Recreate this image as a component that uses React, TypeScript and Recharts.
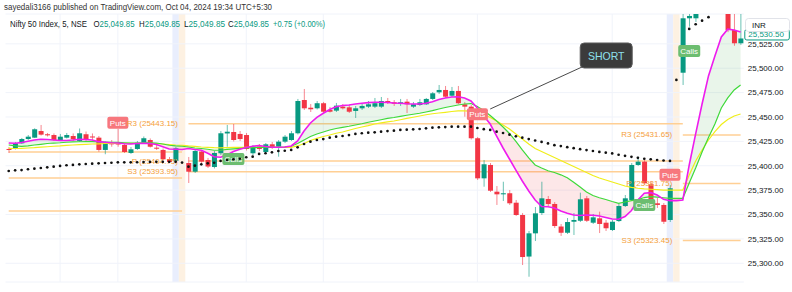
import React from 'react';
import {
  ComposedChart, Bar, Line, Area, XAxis, YAxis, CartesianGrid, ReferenceArea, ReferenceLine,
} from 'recharts';

const FONT = "'Liberation Sans', Arial, sans-serif";
const UP = '#089981';
const DOWN = '#f23645';

// [open, high, low, close]
const DAY1_OHLC = [
  [25417.2, 25419.2, 25413.1, 25416.2], [25417.9, 25424.4, 25416.7, 25423.0], [25423.0, 25428.5, 25422.3, 25427.4],
  [25427.4, 25431.5, 25426.4, 25429.8], [25428.8, 25438.4, 25428.5, 25437.4], [25435.6, 25441.8, 25431.0, 25431.9],
  [25432.3, 25433.6, 25430.0, 25431.2], [25431.5, 25433.1, 25425.4, 25426.4], [25426.4, 25432.6, 25425.4, 25429.8],
  [25428.8, 25433.6, 25428.0, 25431.5], [25430.5, 25433.1, 25425.4, 25427.1], [25425.4, 25438.2, 25424.4, 25433.3],
  [25432.3, 25435.1, 25425.4, 25427.4], [25430.0, 25433.1, 25426.4, 25429.5], [25428.8, 25430.5, 25414.4, 25416.2],
  [25416.2, 25424.9, 25411.8, 25423.6], [25423.0, 25426.4, 25419.5, 25422.0], [25423.0, 25437.7, 25419.5, 25421.8],
  [25421.3, 25423.3, 25413.1, 25414.1], [25413.1, 25419.2, 25412.1, 25416.9], [25417.2, 25425.4, 25416.2, 25423.6],
  [25423.6, 25430.0, 25422.8, 25428.2], [25426.4, 25428.0, 25418.7, 25419.5], [25418.5, 25421.3, 25416.2, 25417.5],
  [25416.2, 25417.7, 25405.9, 25406.6], [25406.9, 25409.0, 25402.8, 25403.9], [25404.9, 25419.2, 25403.9, 25417.9],
];
const DAY2_OHLC = [
  [25402.8, 25409.0, 25382.3, 25393.9], [25393.9, 25416.2, 25392.6, 25415.1], [25414.6, 25416.2, 25402.8, 25404.2],
  [25405.9, 25408.0, 25397.7, 25399.2], [25398.7, 25415.1, 25397.2, 25413.1], [25412.8, 25435.6, 25411.0, 25433.3],
  [25433.1, 25441.8, 25419.5, 25434.9], [25434.6, 25442.8, 25424.9, 25426.4], [25432.6, 25435.6, 25425.4, 25427.4],
  [25431.5, 25433.6, 25415.6, 25417.2], [25412.8, 25421.3, 25411.0, 25419.5], [25419.8, 25422.3, 25415.1, 25417.2],
  [25414.1, 25423.3, 25413.1, 25422.0], [25422.0, 25424.4, 25417.2, 25418.5], [25419.5, 25426.4, 25409.3, 25424.7],
  [25424.7, 25431.5, 25423.3, 25429.8], [25426.4, 25435.6, 25425.4, 25433.3], [25433.3, 25468.5, 25432.1, 25466.4],
  [25467.4, 25478.7, 25457.2, 25458.9], [25459.5, 25463.3, 25455.1, 25457.9], [25458.9, 25466.4, 25457.7, 25464.1],
  [25464.1, 25465.4, 25454.1, 25455.4], [25457.2, 25460.3, 25454.6, 25455.4], [25456.5, 25464.4, 25455.1, 25461.6],
  [25460.6, 25463.3, 25457.7, 25458.9], [25459.9, 25462.3, 25454.1, 25455.4], [25456.2, 25461.3, 25449.0, 25458.9],
  [25458.9, 25463.3, 25457.2, 25461.3], [25460.6, 25466.4, 25459.2, 25463.0], [25460.6, 25469.5, 25459.2, 25464.1],
  [25460.6, 25470.5, 25459.2, 25466.4], [25466.4, 25469.5, 25463.3, 25465.1], [25465.1, 25467.4, 25461.3, 25463.6],
  [25463.3, 25468.5, 25461.3, 25465.1], [25465.7, 25468.5, 25454.1, 25463.0], [25460.6, 25465.4, 25459.2, 25463.0],
  [25462.3, 25468.5, 25461.3, 25465.1], [25463.0, 25469.5, 25462.3, 25468.5], [25468.5, 25475.6, 25467.4, 25474.3],
  [25475.3, 25482.8, 25473.6, 25477.7], [25477.7, 25481.8, 25469.5, 25470.8], [25471.8, 25480.8, 25470.5, 25476.7],
  [25476.7, 25481.8, 25463.3, 25464.1], [25463.0, 25465.4, 25450.3, 25460.6], [25460.6, 25462.3, 25426.9, 25428.2],
  [25428.2, 25429.5, 25385.4, 25387.1], [25387.1, 25405.9, 25378.5, 25401.5], [25400.8, 25402.8, 25373.1, 25374.4],
  [25373.4, 25379.2, 25359.8, 25370.7], [25370.7, 25383.6, 25363.9, 25371.8], [25371.8, 25375.1, 25359.8, 25361.5],
  [25362.1, 25364.9, 25348.5, 25349.5], [25349.5, 25351.5, 25298.2, 25306.4], [25306.9, 25333.1, 25286.2, 25330.7],
  [25330.7, 25357.7, 25322.8, 25351.2], [25351.5, 25383.6, 25349.5, 25366.6], [25365.9, 25369.0, 25358.7, 25360.8],
  [25360.8, 25362.8, 25336.2, 25338.2], [25337.7, 25340.3, 25328.0, 25331.3], [25331.3, 25346.4, 25330.0, 25342.3],
  [25342.6, 25351.5, 25329.0, 25344.4], [25343.6, 25372.4, 25342.3, 25365.6], [25366.6, 25369.0, 25342.3, 25343.6],
  [25341.6, 25350.5, 25340.3, 25347.1], [25346.1, 25352.9, 25331.0, 25340.3], [25341.6, 25344.4, 25333.1, 25335.9],
  [25334.1, 25344.4, 25333.1, 25342.6], [25343.3, 25360.8, 25342.3, 25358.7], [25358.7, 25370.0, 25357.7, 25366.6],
  [25364.9, 25402.8, 25363.9, 25400.8], [25400.8, 25409.3, 25399.8, 25404.2], [25404.2, 25408.0, 25380.3, 25382.0],
  [25381.0, 25384.4, 25361.8, 25363.1], [25361.5, 25366.9, 25356.7, 25359.8], [25359.8, 25361.8, 25340.3, 25342.6],
  [25344.4, 25380.3, 25342.3, 25376.9],
];
const DAY3_OHLC = [
  [25495.4, 25557.7, 25482.8, 25551.2], [25551.2, 25559.7, 25542.6, 25553.6], [25551.2, 25561.8, 25547.4, 25556.7],
  [25557.0, 25575.0, 25556.0, 25566.0], [25566.0, 25585.0, 25562.0, 25580.0], [25580.0, 25598.0, 25575.0, 25592.0],
  [25590.0, 25597.0, 25565.0, 25570.0], [25570.0, 25574.0, 25537.0, 25539.2], [25539.2, 25556.5, 25523.0, 25525.6],
  [25525.6, 25560.0, 25524.0, 25530.5],
];
const OHLC = [...DAY1_OHLC, null, ...DAY2_OHLC, null, ...DAY3_OHLC];

const EMA_FAST = [
  25423.3, 25423.0, 25423.9, 25425.1, 25426.4, 25427.1, 25426.9, 25426.4, 25425.9, 25425.9,
  25426.4, 25427.1, 25426.9, 25426.4, 25424.7, 25424.1, 25423.6, 25423.3, 25422.6, 25422.3,
  25422.8, 25423.0, 25422.8, 25421.8, 25419.5, 25417.2, 25416.9, 25416.7,
  25417.7, 25416.7, 25415.9, 25412.8, 25409.3, 25408.7, 25411.0, 25414.6, 25416.9, 25418.7,
  25420.0, 25420.8, 25419.8, 25418.9, 25418.9, 25419.2, 25420.3, 25425.4, 25435.6, 25443.9,
  25449.7, 25453.8, 25457.7, 25460.6, 25461.8, 25462.3, 25463.3, 25464.1, 25464.7, 25465.1,
  25465.1, 25464.9, 25464.4, 25464.1, 25463.6, 25463.3, 25463.3, 25464.1, 25465.7, 25468.0,
  25469.5, 25470.5, 25470.8, 25469.5, 25466.4, 25459.2, 25451.0, 25442.8, 25430.5, 25418.2,
  25406.9, 25395.6, 25384.4, 25374.1, 25364.9, 25358.2, 25358.0, 25356.7, 25353.6, 25351.2,
  25349.5, 25349.0, 25349.5, 25349.2, 25348.5, 25346.9, 25345.4, 25345.1, 25348.0, 25354.1,
  25364.9, 25371.8, 25372.4, 25370.0, 25365.6, 25364.2, 25364.2,
  25364.9, 25400.8, 25432.6, 25463.3, 25492.1, 25512.6, 25532.1, 25540.0, 25539.2, 25537.2,
];
const EMA_MID = [
  25421.3, 25420.3, 25419.8, 25420.3, 25421.3, 25422.0, 25422.8, 25423.3, 25423.6, 25424.1,
  25424.4, 25424.6, 25424.7, 25424.7, 25424.4, 25424.2, 25424.1, 25423.9, 25423.6, 25423.3,
  25423.3, 25423.5, 25423.5, 25423.3, 25422.3, 25421.0, 25420.3, 25420.0,
  25419.2, 25418.2, 25417.7, 25416.9, 25415.9, 25415.9, 25416.7, 25417.4, 25417.9, 25418.2,
  25418.5, 25418.7, 25418.9, 25418.9, 25418.9, 25419.2, 25420.0, 25422.8, 25426.4, 25430.0,
  25432.6, 25434.6, 25436.7, 25438.2, 25439.4, 25440.5, 25441.8, 25443.1, 25444.6, 25445.9,
  25447.2, 25448.5, 25449.5, 25450.7, 25451.8, 25452.8, 25453.8, 25455.1, 25456.5, 25458.2,
  25459.7, 25461.0, 25462.3, 25463.3, 25463.8, 25460.8, 25456.7, 25451.5, 25445.9, 25439.7,
  25433.1, 25424.9, 25416.2, 25408.0, 25400.8, 25397.7, 25394.9, 25393.1, 25390.7, 25387.7,
  25383.1, 25378.2, 25373.1, 25369.5, 25367.2, 25365.4, 25363.3, 25361.5, 25362.8, 25364.2,
  25365.2, 25367.4, 25368.3, 25367.8, 25367.2, 25366.6, 25366.6,
  25366.6, 25382.3, 25397.7, 25414.1, 25429.0, 25442.8, 25459.2, 25469.5, 25477.7, 25482.8,
];
const EMA_SLOW = [
  25417.9, 25417.7, 25417.9, 25418.2, 25418.5, 25419.0, 25419.5, 25420.0, 25420.3, 25420.8,
  25421.3, 25421.6, 25422.0, 25422.3, 25422.5, 25422.8, 25422.9, 25423.0, 25423.0, 25423.0,
  25423.0, 25423.0, 25423.0, 25422.8, 25422.3, 25421.8, 25421.3, 25421.0,
  25420.3, 25419.8, 25419.2, 25418.9, 25418.5, 25418.4, 25418.6, 25418.8, 25418.9, 25418.9,
  25418.9, 25418.9, 25418.9, 25418.9, 25418.9, 25418.9, 25418.9, 25420.3, 25422.8, 25425.9,
  25428.0, 25430.0, 25431.5, 25433.3, 25434.6, 25436.4, 25438.2, 25439.7, 25441.1, 25442.8,
  25443.9, 25444.9, 25445.9, 25447.2, 25448.5, 25449.7, 25451.0, 25452.3, 25453.3, 25454.1,
  25454.8, 25455.6, 25456.2, 25456.2, 25455.9, 25454.6, 25452.6, 25449.5, 25445.9, 25441.8,
  25437.7, 25432.6, 25427.4, 25422.3, 25417.7, 25414.6, 25411.5, 25408.5, 25405.4, 25402.3,
  25399.2, 25396.2, 25393.1, 25390.0, 25387.4, 25385.4, 25383.3, 25381.3, 25379.2, 25377.9,
  25376.9, 25376.2, 25375.9, 25375.5, 25375.1, 25375.1, 25375.1,
  25375.1, 25390.5, 25404.9, 25416.2, 25426.4, 25435.1, 25442.3, 25447.4, 25451.0, 25453.1,
];
const VWAP = [
  25394.6, 25395.3, 25395.6, 25396.4, 25397.0, 25397.7, 25398.4, 25399.0, 25399.8, 25400.5,
  25400.8, 25401.5, 25401.8, 25402.1, 25402.5, 25402.8, 25403.1, 25403.5, 25403.5, 25403.5,
  25403.6, 25403.8, 25403.9, 25404.0, 25404.0, 25404.0, 25404.0, 25403.3,
  25399.0, 25400.1, 25401.5, 25402.5, 25403.1, 25404.9, 25405.9, 25406.6, 25407.2, 25408.7,
  25409.3, 25412.1, 25412.8, 25413.8, 25415.1, 25415.4, 25416.2, 25418.9, 25422.3, 25424.7,
  25426.4, 25427.4, 25428.8, 25429.8, 25430.5, 25431.5, 25432.6, 25433.3, 25433.9, 25434.3,
  25434.9, 25435.6, 25436.0, 25436.7, 25437.0, 25437.4, 25437.7, 25438.4, 25439.0, 25439.4,
  25439.7, 25440.1, 25440.1, 25440.1, 25440.1, 25438.7, 25437.5, 25436.7, 25434.9, 25433.6,
  25431.9, 25430.2, 25428.8, 25427.4, 25425.9, 25424.4, 25422.9, 25421.1, 25420.2, 25419.0,
  25418.0, 25417.0, 25416.1, 25415.1, 25414.2, 25413.4, 25412.6, 25411.3, 25410.2, 25409.1,
  25408.1, 25407.2, 25406.6, 25405.9, 25405.4, 25404.9, 25488.0,
  null, 25540.3, 25545.1, 25548.8, 25552.3, null, null, null, null, null,
];

const PIVOT_NAMES = ['R3', 'P', 'S3'];
const DAY1_LEVELS = [25414.1, 25387.4, 25353.6];
const DAY2_LEVELS = [25443.15, 25404.75, 25393.95];
const DAY3_LEVELS = [25431.65, 25381.75, 25323.45];
const LEVEL_SETS = [
  { levels: DAY1_LEVELS, from: 0, to: 27, labels: false },
  { levels: DAY2_LEVELS, from: 28, to: 105, labels: true },
  { levels: DAY3_LEVELS, from: 105, to: 114, labels: true },
];

const SIGNAL_SLOTS = [17, 35, 73, 99, 103, 106];
const SIGNAL_TEXT = ['Puts', 'Calls', 'Puts', 'Calls', 'Puts', 'Calls'];
const SIGNAL_PRICE = [25444.0, 25406.9, 25452.9, 25359.8, 25390.8, 25517.7];

const SESSION_END_SLOTS = [26, 103];
const SESSION_GAP_SLOTS = [27, 104];
const TIME_GRID_SLOTS = [8, 17, 37, 49, 73, 94];
const PRICE_TICKS = [25300, 25325, 25350, 25375, 25400, 25425, 25450, 25475, 25500, 25525];
const Y_DOMAIN = [25280.8, 25555.6];
const LAST_CLOSE = 25530.5;
const CALLOUT_SLOT = 75;
const CALLOUT_PRICE = 25458.2;
const CALLOUT_TEXT = 'SHORT';

const LEGEND_TITLE = 'Nifty 50 Index, 5, NSE';
const LEGEND_OHLC = [['O', '25,049.85'], ['H', '25,049.85'], ['L', '25,049.85'], ['C', '25,049.85']];
const LEGEND_CHANGE = '+0.75 (+0.00%)';

const fmt = (v: number) => v.toLocaleString('en-US', { minimumFractionDigits: 2, maximumFractionDigits: 2 });

const rows: any[] = OHLC.map((k, i) => {
  const r: any = { i, m: EMA_FAST[i], g: EMA_MID[i], s: EMA_SLOW[i], v: VWAP[i] };
  if (k) { r.o = k[0]; r.h = k[1]; r.l = k[2]; r.c = k[3]; }
  LEVEL_SETS.forEach((set, d) => set.levels.forEach((lv, j) => {
    r[`L${d}_${j}`] = i >= set.from && i <= set.to ? lv : null;
  }));
  const si = SIGNAL_SLOTS.indexOf(i);
  r.sig = si >= 0 ? SIGNAL_PRICE[si] : null;
  r.sigText = si >= 0 ? SIGNAL_TEXT[si] : null;
  r.call = i === CALLOUT_SLOT ? CALLOUT_PRICE : null;
  return r;
});
rows.forEach((r, i) => {
  const up = (x: any) => x && x.m >= x.g;
  const dn = (x: any) => x && x.m < x.g;
  const p = rows[i - 1];
  r.fu = up(r) || up(p) ? [r.g, r.m] : null;
  r.fd = dn(r) || dn(p) ? [r.m, r.g] : null;
});

function Candle(props: any) {
  const { x, y, width, height, payload, index } = props;
  if (!payload || payload.h == null || !isFinite(y) || !isFinite(height)) return <g key={index} />;
  const { o, h, l, c } = payload;
  const top = Math.min(y, y + height);
  const bot = Math.max(y, y + height);
  const k = h - l > 0 ? (bot - top) / (h - l) : 0;
  const py = (v: number) => top + (h - v) * k;
  const col = c >= o ? UP : DOWN;
  const cx = x + width / 2;
  const bt = py(Math.max(o, c));
  const bb = py(Math.min(o, c));
  return (
    <g key={index}>
      <line x1={cx} x2={cx} y1={top} y2={bot} stroke={col} strokeOpacity={0.6} strokeWidth={1} />
      <rect x={x} y={bt} width={width} height={Math.max(1, bb - bt)} fill={col} />
    </g>
  );
}

const renderSignal = (p: any) => {
  const { cx, cy, payload, index } = p;
  if (!payload || payload.sig == null || cx == null || cy == null) return <g key={index} />;
  const put = payload.sigText === 'Puts';
  const w = put ? 21 : 22;
  const h = 12;
  return (
    <g key={index}>
      <rect x={cx - w / 2} y={cy - h / 2} width={w} height={h} rx={2} fill={put ? '#f7777d' : '#6cbd70'} />
      <text x={cx} y={cy + 0.5} textAnchor="middle" dominantBaseline="central" fontSize={8} fill="#ffffff" fontFamily={FONT}>
        {payload.sigText}
      </text>
    </g>
  );
};

const makeLevelLabel = (d: number, j: number) => (p: any) => {
  const { cx, cy, payload, index } = p;
  const set = LEVEL_SETS[d];
  if (!set.labels || !payload || payload.i !== set.from || cx == null) return <g key={index} />;
  return (
    <text key={index} x={cx - 10.5} y={cy} textAnchor="end" dominantBaseline="central" fontSize={8}
      fill="#f5a03a" fontFamily={FONT}>
      {`${PIVOT_NAMES[j]} (${set.levels[j].toFixed(2)})`}
    </text>
  );
};

const renderCallout = (p: any) => {
  const { cx, cy, payload, index } = p;
  if (!payload || payload.call == null || cx == null) return <g key={index} />;
  const bx = cx + 90;
  const by = cy - 66;
  return (
    <g key={index}>
      <line x1={cx} y1={cy} x2={bx + 4} y2={by + 23} stroke="#4a4a4a" strokeWidth={1} />
      <rect x={bx} y={by} width={52} height={25} rx={4} fill="#3b3b3b" stroke="#5c5c5c" strokeWidth={1} />
      <text x={bx + 26} y={by + 13} textAnchor="middle" dominantBaseline="central" fontSize={10.5}
        fill="#8fe0ee" fontFamily={FONT}>{CALLOUT_TEXT}</text>
    </g>
  );
};

const PriceTag = (props: any) => {
  const vb = props.viewBox || {};
  const x = (vb.x || 0) + (vb.width || 0) + 1;
  const y = vb.y || 0;
  return (
    <g>
      <rect x={x} y={y - 9} width={44.5} height={10.5} rx={2} fill="#ffffff" stroke={UP} strokeWidth={1} />
      <text x={x + 3.5} y={y - 3.6} dominantBaseline="central" fontSize={8} fill={UP} fontFamily={FONT}>{fmt(LAST_CLOSE)}</text>
    </g>
  );
};

const LEGEND_X = [93.5, 139, 184, 228];

export default function App() {
  return (
    <div style={{ position: 'absolute', left: 0, top: 0, width: 792, height: 292, background: '#ffffff' }}>
      <ComposedChart width={792} height={292} data={rows} margin={{ top: 14, right: 0, bottom: 10, left: 5.5 }}>
        {SESSION_END_SLOTS.map((s) => (
          <ReferenceArea key={`b${s}`} x1={s} x2={s} fill="#e3eafc" fillOpacity={0.8} stroke="none" zIndex={-150} />
        ))}
        {SESSION_GAP_SLOTS.map((s) => (
          <ReferenceArea key={`o${s}`} x1={s} x2={s} fill="#fdf0df" fillOpacity={0.9} stroke="none" zIndex={-150} />
        ))}
        <CartesianGrid vertical={false} stroke="#f0f3fa" />
        {TIME_GRID_SLOTS.map((s) => (
          <ReferenceLine key={`t${s}`} x={s} stroke="#f0f3fa" zIndex={-90} />
        ))}
        <XAxis dataKey="i" hide />
        <YAxis orientation="right" width={48.2} domain={Y_DOMAIN} allowDataOverflow ticks={PRICE_TICKS}
          interval={0} tickFormatter={fmt} axisLine={false} tickLine={false} tickSize={2} tickMargin={2}
          tick={{ fontSize: 8, fill: '#131722', fontFamily: FONT }} />
        {LEVEL_SETS.map((set, d) => set.levels.map((_, j) => (
          <Line key={`L${d}_${j}`} dataKey={`L${d}_${j}`} stroke="#ffcf94" strokeWidth={1.5} dot={false}
            activeDot={false} isAnimationActive={false} zIndex={50} />
        )))}
        <Area dataKey={(d: any) => d.fu} stroke="none" fill="#4caf50" fillOpacity={0.12} isAnimationActive={false}
          activeDot={false} zIndex={100} />
        <Area dataKey={(d: any) => d.fd} stroke="none" fill="#f23645" fillOpacity={0.12} isAnimationActive={false}
          activeDot={false} zIndex={100} />
        {LEVEL_SETS.map((set, d) => set.levels.map((_, j) => (
          <Line key={`LL${d}_${j}`} dataKey={`L${d}_${j}`} stroke="none" dot={makeLevelLabel(d, j)}
            activeDot={false} isAnimationActive={false} zIndex={150} />
        )))}
        <Line dataKey="sig" stroke="none" dot={renderSignal} activeDot={false} isAnimationActive={false} zIndex={200} />
        <Bar dataKey={(d: any) => (d.h == null ? null : [d.l, d.h])} shape={Candle} barSize={5}
          isAnimationActive={false} zIndex={300} />
        <Line dataKey="s" stroke="#f0ee1a" strokeWidth={1.2} dot={false} activeDot={false} isAnimationActive={false} zIndex={400} />
        <Line dataKey="g" stroke="#3fd93a" strokeWidth={1.2} dot={false} activeDot={false} isAnimationActive={false} zIndex={400} />
        <Line dataKey="m" stroke="#ee1cee" strokeWidth={1.6} dot={false} activeDot={false} isAnimationActive={false} zIndex={400} />
        <Line dataKey="v" stroke="none" dot={{ r: 1.35, fill: '#111111', stroke: 'none' }} activeDot={false}
          isAnimationActive={false} zIndex={450} />
        <Line dataKey="call" stroke="none" dot={renderCallout} activeDot={false} isAnimationActive={false} zIndex={500} />
        <ReferenceLine y={LAST_CLOSE} stroke="none" label={<PriceTag />} zIndex={600} />
      </ComposedChart>
      <svg width={792} height={292} style={{ position: 'absolute', left: 0, top: 0, pointerEvents: 'none' }}>
        <text x={4} y={7} fontSize={8.5} fill="#333333" dominantBaseline="central" fontFamily={FONT}
          textLength={268} lengthAdjust="spacingAndGlyphs">
          sayedali3166 published on TradingView.com, Oct 04, 2024 19:34 UTC+5:30
        </text>
        <g fontSize={8.3} fontFamily={FONT}>
          <text x={10} y={24} fill="#131722" dominantBaseline="central" textLength={77} lengthAdjust="spacingAndGlyphs">
            {LEGEND_TITLE}
          </text>
          {LEGEND_OHLC.map(([k, v], n) => (
            <text key={k} x={LEGEND_X[n]} y={24} dominantBaseline="central" textLength={41} lengthAdjust="spacingAndGlyphs">
              <tspan fill="#131722">{k}</tspan>
              <tspan fill={UP}>{v}</tspan>
            </text>
          ))}
          <text x={273} y={24} fill={UP} dominantBaseline="central" textLength={52} lengthAdjust="spacingAndGlyphs">
            {LEGEND_CHANGE}
          </text>
        </g>
        <rect x={745.5} y={18.5} width={44} height={13} rx={3} fill="#ffffff" stroke="#d9dce3" strokeWidth={0.8} />
        <text x={752} y={25.2} fontSize={8} fill="#131722" dominantBaseline="central" fontFamily={FONT}>INR</text>
      </svg>
    </div>
  );
}
